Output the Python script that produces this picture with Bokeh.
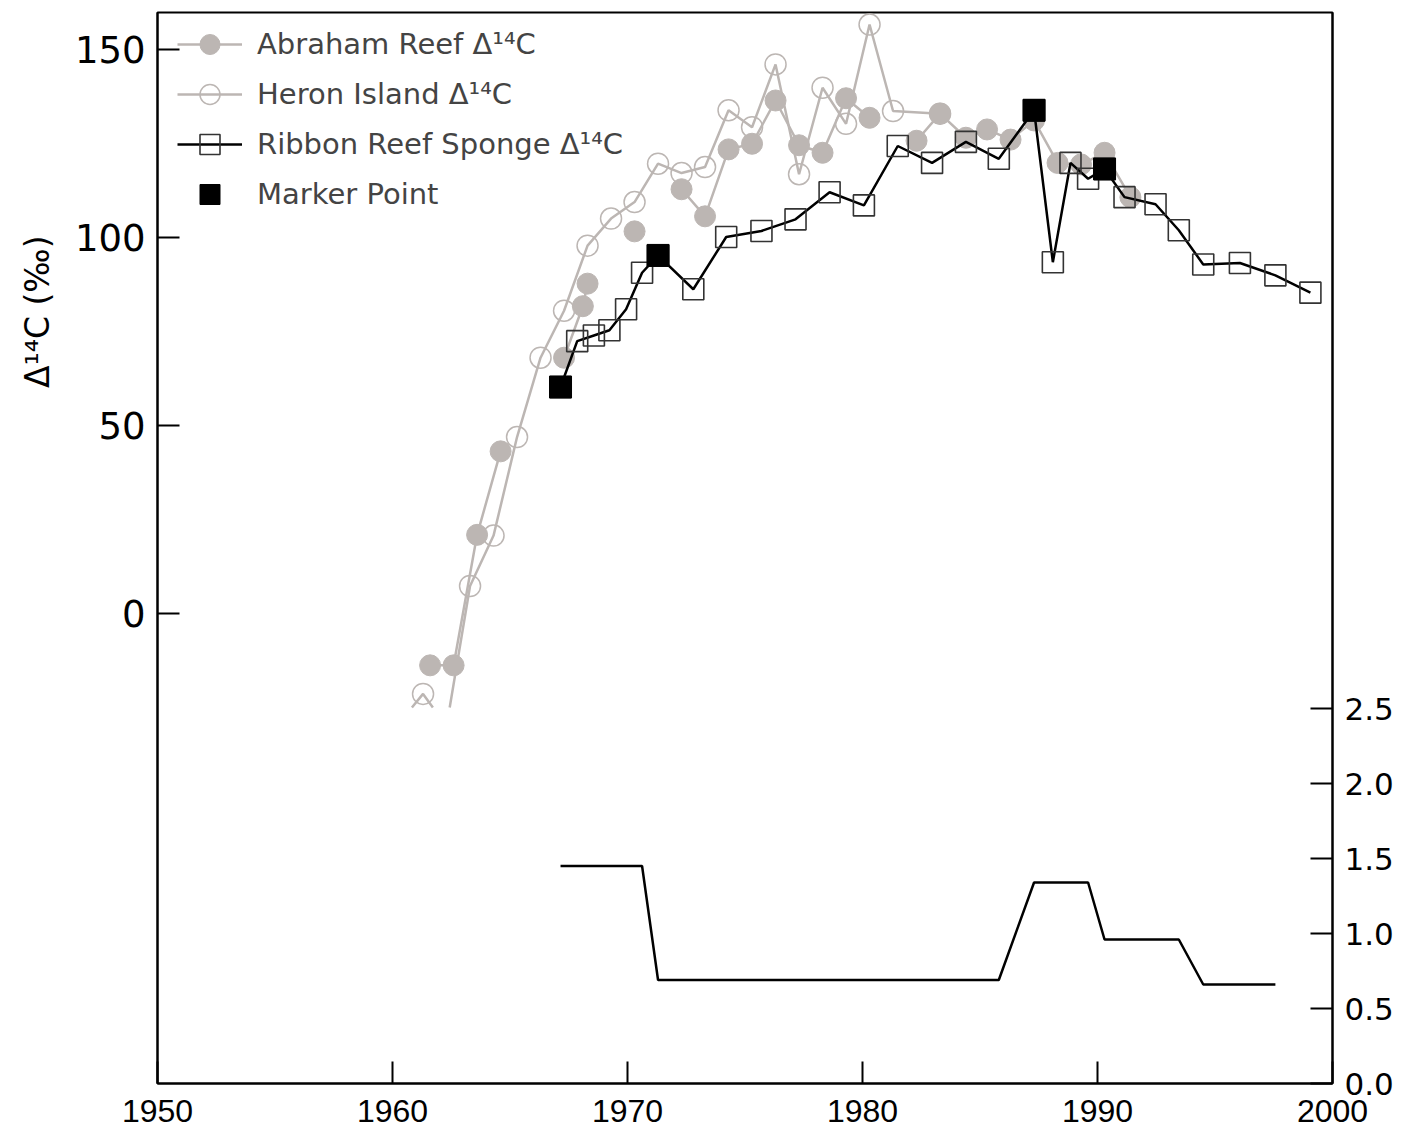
from bokeh.plotting import figure
from bokeh.models import (Range1d, LinearAxis, FixedTicker, Legend, LegendItem,
                          Title, ColumnDataSource, PrintfTickFormatter)
from bokeh.embed import file_html
from bokeh.resources import INLINE

nan = float("nan")

# ---------------- data ----------------
abraham_year = [1961.6, 1962.6, 1963.6, 1964.6, nan, 1967.3, 1968.1, 1968.3, nan,
                1970.3, nan, 1972.3, 1973.3, 1974.3, 1975.3, 1976.3, 1977.3, 1978.3,
                1979.3, 1980.3, nan, 1982.3, 1983.3, 1984.4, 1985.3, 1986.3, 1987.3,
                1988.3, 1989.3, 1990.3, 1991.4]
abraham_d14c = [-13.8, -13.8, 20.9, 43.1, nan, 68.0, 81.7, 87.7, nan,
                101.6, nan, 112.8, 105.6, 123.4, 124.9, 136.4, 124.5, 122.5,
                137.0, 131.8, nan, 125.7, 132.9, 126.5, 128.7, 126.0, 131.1,
                119.8, 119.4, 122.5, 110.7]

heron_year = [1960.3, 1961.3, 1962.3, 1963.3, 1964.3, 1965.3, 1966.3, 1967.3, 1968.3,
              1969.3, 1970.3, 1971.3, 1972.3, 1973.3, 1974.3, 1975.3, 1976.3, 1977.3,
              1978.3, 1979.3, 1980.3, 1981.3, 1983.3]
heron_d14c = [-29.0, -21.4, -30.0, 7.3, 20.7, 46.9, 68.0, 80.5, 97.8,
              105.0, 109.4, 119.6, 117.1, 118.7, 133.8, 129.3, 146.0, 116.8,
              139.8, 130.2, 156.6, 133.6, 132.9]

sponge_year = [1967.15, 1967.86, 1968.57, 1969.23, 1969.94, 1970.62, 1971.3, 1972.8,
               1974.2, 1975.7, 1977.15, 1978.6, 1980.06, 1981.5, 1982.96, 1984.4,
               1985.8, 1987.3, 1988.1, 1988.85, 1989.6, 1990.3, 1991.15, 1992.47,
               1993.46, 1994.5, 1996.06, 1997.57, 1999.06]
sponge_d14c = [60.2, 72.4, 73.9, 75.3, 80.9, 90.6, 95.2, 86.2,
               100.1, 101.7, 104.8, 112.0, 108.5, 124.3, 119.8, 125.4,
               120.9, 133.8, 93.4, 119.8, 115.6, 118.2, 110.7, 108.8,
               101.9, 92.8, 93.2, 89.9, 85.3]

marker_year = [1967.15, 1971.3, 1987.3, 1990.3]
marker_d14c = [60.2, 95.2, 133.8, 118.2]

step_year = [1967.15, 1967.86, 1968.57, 1969.23, 1969.94, 1970.62, 1971.3, 1972.8,
             1974.2, 1975.7, 1977.15, 1978.6, 1980.06, 1981.5, 1982.96, 1984.4,
             1985.8, 1987.3, 1988.1, 1988.85, 1989.6, 1990.3, 1991.15, 1992.47,
             1993.46, 1994.5, 1996.06, 1997.57]
step_value = [1.45, 1.45, 1.45, 1.45, 1.45, 1.45, 0.69, 0.69,
              0.69, 0.69, 0.69, 0.69, 0.69, 0.69, 0.69, 0.69,
              0.69, 1.34, 1.34, 1.34, 1.34, 0.96, 0.96, 0.96,
              0.96, 0.66, 0.66, 0.66]

x_ticks = [1950, 1960, 1970, 1980, 1990, 2000]
left_ticks = [0, 50, 100, 150]
right_ticks = [0.0, 0.5, 1.0, 1.5, 2.0, 2.5]

LEFT_FLOOR = -25.0   # lower end of the left-axis data region


def clip_below(xs, ys, floor):
    ox, oy = [], []
    for i in range(len(xs)):
        x, y = xs[i], ys[i]
        if i > 0:
            x0, y0 = xs[i - 1], ys[i - 1]
            if (y0 < floor) != (y < floor):
                t = (floor - y0) / (y - y0)
                ox.append(x0 + t * (x - x0))
                oy.append(floor)
                if y < floor:
                    ox.append(nan)
                    oy.append(nan)
        if y >= floor:
            ox.append(x)
            oy.append(y)
    return ox, oy


GRAY = "#bcb6b3"
FONT = "DejaVu Sans"

W, H = 1399, 1132
FL, FR, FT, FB = 157, 1332, 12, 1083
p = figure(width=W, height=H, output_backend="svg", toolbar_location=None,
           x_range=Range1d(1950, 2000), y_range=Range1d(-125, 159.8),
           min_border_left=FL, min_border_right=W - FR,
           min_border_top=FT, min_border_bottom=H - FB)
p.extra_y_ranges = {"right": Range1d(0, 7.14)}
p.grid.visible = False
p.outline_line_color = "black"
p.outline_line_width = 2
p.background_fill_color = "white"
p.border_fill_color = "white"

# heron island
hx, hy = clip_below(heron_year, heron_d14c, LEFT_FLOOR)
heron_line = p.line(hx, hy, line_color=GRAY, line_width=2.5)
hmx = [x for x, y in zip(heron_year, heron_d14c) if y >= LEFT_FLOOR]
hmy = [y for y in heron_d14c if y >= LEFT_FLOOR]
heron_pts = p.scatter(hmx, hmy, marker="circle", size=21, fill_color=None,
                      line_color=GRAY, line_width=1.5)

# abraham reef
abr_src = ColumnDataSource(dict(x=abraham_year, y=abraham_d14c))
abr_line = p.line("x", "y", source=abr_src, line_color=GRAY, line_width=2.5)
abr_pts = p.scatter("x", "y", source=abr_src, marker="circle", size=21,
                    fill_color=GRAY, line_color=GRAY)

# sponge
sp_line = p.line(sponge_year, sponge_d14c, line_color="black", line_width=2.5)
sp_pts = p.scatter(sponge_year, sponge_d14c, marker="square", size=21,
                   fill_color=None, line_color="#333333", line_width=1.6)

mk_pts = p.scatter(marker_year, marker_d14c, marker="square", size=22,
                   fill_color="black", line_color="black")

# right-axis series
p.line(step_year, step_value, y_range_name="right", line_color="black", line_width=2.5)


def style_axis(ax, font, size):
    ax.major_tick_in = 22
    ax.major_tick_out = 0
    ax.minor_tick_line_color = None
    ax.major_tick_line_width = 2
    ax.major_tick_line_color = "black"
    ax.axis_line_width = 2
    ax.axis_line_color = "black"
    ax.major_label_text_font = font
    ax.major_label_text_font_size = size
    ax.major_label_text_color = "black"


p.xaxis.ticker = FixedTicker(ticks=x_ticks)
p.yaxis.ticker = FixedTicker(ticks=left_ticks)
style_axis(p.xaxis[0], "Liberation Sans", "32px")
style_axis(p.yaxis[0], FONT, "37px")
p.xaxis.major_label_standoff = 16
p.yaxis.major_label_standoff = 12

rax = LinearAxis(y_range_name="right", ticker=FixedTicker(ticks=right_ticks),
                 formatter=PrintfTickFormatter(format="%.1f"))
style_axis(rax, FONT, "31px")
rax.major_label_standoff = 12
p.add_layout(rax, "right")

# y axis title, placed in the left border next to the upper (Δ14C) part of the axis
ytitle = Title(text="Δ¹⁴C (‰)", align="right", offset=223,
               text_font=FONT, text_font_size="33px", text_font_style="normal",
               text_color="black", standoff=30)
p.add_layout(ytitle, "left")

legend = Legend(items=[
    LegendItem(label="Abraham Reef Δ¹⁴C", renderers=[abr_line, abr_pts]),
    LegendItem(label="Heron Island Δ¹⁴C", renderers=[heron_line, heron_pts]),
    LegendItem(label="Ribbon Reef Sponge Δ¹⁴C", renderers=[sp_line, sp_pts]),
    LegendItem(label="Marker Point", renderers=[mk_pts]),
])
legend.border_line_color = None
legend.background_fill_alpha = 0
legend.label_text_font = FONT
legend.label_text_font_size = "29px"
legend.glyph_width = 65
legend.glyph_height = 50
legend.label_height = 50
legend.spacing = 0
legend.label_standoff = 15
legend.padding = 0
legend.margin = 0
legend.location = (20, (FB - FT) - 7 - 200)
p.add_layout(legend)

open("out.html", "w").write(file_html(p, INLINE))
